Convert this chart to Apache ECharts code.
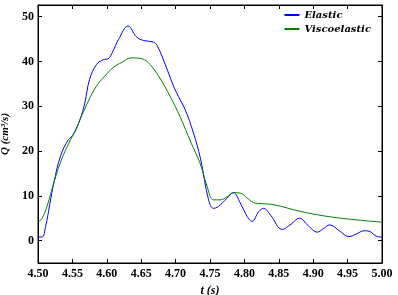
<!DOCTYPE html>
<html><head><meta charset="utf-8">
<script src="https://cdn.jsdelivr.net/npm/echarts@6/dist/echarts.min.js"></script>
<style>html,body{margin:0;padding:0;background:#fff}#c{width:398px;height:295px}</style>
</head><body><div id="c"></div>
<script>
var elasticT = [4.500,4.506,4.511,4.517,4.523,4.533,4.544,4.551,4.561,4.568,4.575,4.585,4.595,4.602,4.609,4.617,4.631,4.643,4.653,4.668,4.673,4.684,4.697,4.704,4.714,4.726,4.736,4.748,4.755,4.762,4.775,4.784,4.794,4.804,4.811,4.821,4.828,4.838,4.855,4.868,4.880,4.893,4.906,4.915,4.924,4.938,4.952,4.963,4.974,4.981,4.993,5.000];
var elasticQ = [0.8,0.8,3.1,8.0,12.9,19.0,22.5,23.6,27.0,30.7,36.0,39.3,40.4,40.6,42.3,44.9,47.9,45.5,44.7,44.3,43.6,39.7,34.5,32.2,29.2,24.0,18.4,9.1,7.2,7.6,9.5,10.7,8.4,5.4,4.3,6.5,7.2,5.7,2.5,3.7,5.0,3.3,1.9,2.7,3.5,2.2,0.9,1.5,2.2,2.1,0.9,0.8];
var viscoT = [4.500,4.506,4.513,4.520,4.528,4.535,4.545,4.555,4.561,4.573,4.585,4.597,4.609,4.622,4.636,4.651,4.663,4.677,4.692,4.707,4.722,4.735,4.746,4.755,4.765,4.775,4.784,4.794,4.804,4.813,4.821,4.843,4.882,4.930,5.000];
var viscoQ = [4.1,5.0,7.6,11.3,15.4,18.4,21.8,24.8,27.0,31.1,34.5,36.7,38.6,39.8,40.8,40.6,39.3,36.3,32.2,27.5,22.0,17.5,12.0,9.1,9.1,9.8,10.7,10.6,9.5,8.5,8.3,8.0,6.5,5.2,4.1];
var yTicks = [0,10,20,30,40,50];
var seriesNames = ['Elastic','Viscoelastic'];

function pairs(t,q){return t.map(function(v,i){return [v,q[i]];});}
var font = 'Liberation Serif';
var chart = echarts.init(document.getElementById('c'), null, {renderer:'canvas'});
var xCommon = {type:'value',min:4.5,max:5.0,interval:0.05,
  axisLine:{show:true,onZero:false,lineStyle:{color:'#000',width:1}},
  axisTick:{show:true,inside:true,length:4,lineStyle:{color:'#000'}},
  splitLine:{show:false}};
var yCommon = {type:'value',min:-5,max:52.6,
  axisLine:{show:true,onZero:false,lineStyle:{color:'#000',width:1}},
  axisTick:{show:true,inside:true,length:4,customValues:yTicks,lineStyle:{color:'#000'}},
  splitLine:{show:false}};
chart.setOption({
  animation:false,
  grid:{left:38,right:16,top:5,bottom:32,outerBoundsMode:'none',containLabel:false,show:true,borderColor:'#000',borderWidth:1,backgroundColor:'transparent'},
  legend:{show:true,right:22,top:5,orient:'vertical',itemWidth:15,itemHeight:2,itemGap:4,
    icon:'rect',textStyle:{fontFamily:'DejaVu Serif',fontStyle:'italic',fontWeight:'bold',fontSize:10,color:'#000'},
    data:seriesNames},
  xAxis:[
    Object.assign({},xCommon,{position:'bottom',
      axisLabel:{show:true,margin:5,fontFamily:font,fontWeight:'bold',fontSize:12,color:'#000',
        formatter:function(v){return v.toFixed(2);}},
      name:'t (s)',nameLocation:'middle',nameGap:19,
      nameTextStyle:{fontFamily:font,fontStyle:'italic',fontWeight:'bold',fontSize:12,color:'#000'}}),
    Object.assign({},xCommon,{position:'top',axisLabel:{show:false}})
  ],
  yAxis:[
    Object.assign({},yCommon,{position:'left',
      axisLabel:{show:true,customValues:yTicks,margin:4,fontFamily:font,fontWeight:'bold',fontSize:12,color:'#000'},
      name:'Q (cm³/s)',nameLocation:'middle',nameGap:24,nameRotate:90,
      nameTextStyle:{fontFamily:font,fontStyle:'italic',fontWeight:'bold',fontSize:11,color:'#000'}}),
    Object.assign({},yCommon,{position:'right',axisLabel:{show:false}})
  ],
  series:[
    {name:seriesNames[0],type:'line',xAxisIndex:0,yAxisIndex:0,data:pairs(elasticT,elasticQ),
      smooth:0.4,showSymbol:false,lineStyle:{color:'#0000ff',width:1},itemStyle:{color:'#0000ff'}},
    {name:seriesNames[1],type:'line',xAxisIndex:0,yAxisIndex:0,data:pairs(viscoT,viscoQ),
      smooth:0.4,showSymbol:false,lineStyle:{color:'#008000',width:1},itemStyle:{color:'#008000'}}
  ]
});
</script></body></html>
